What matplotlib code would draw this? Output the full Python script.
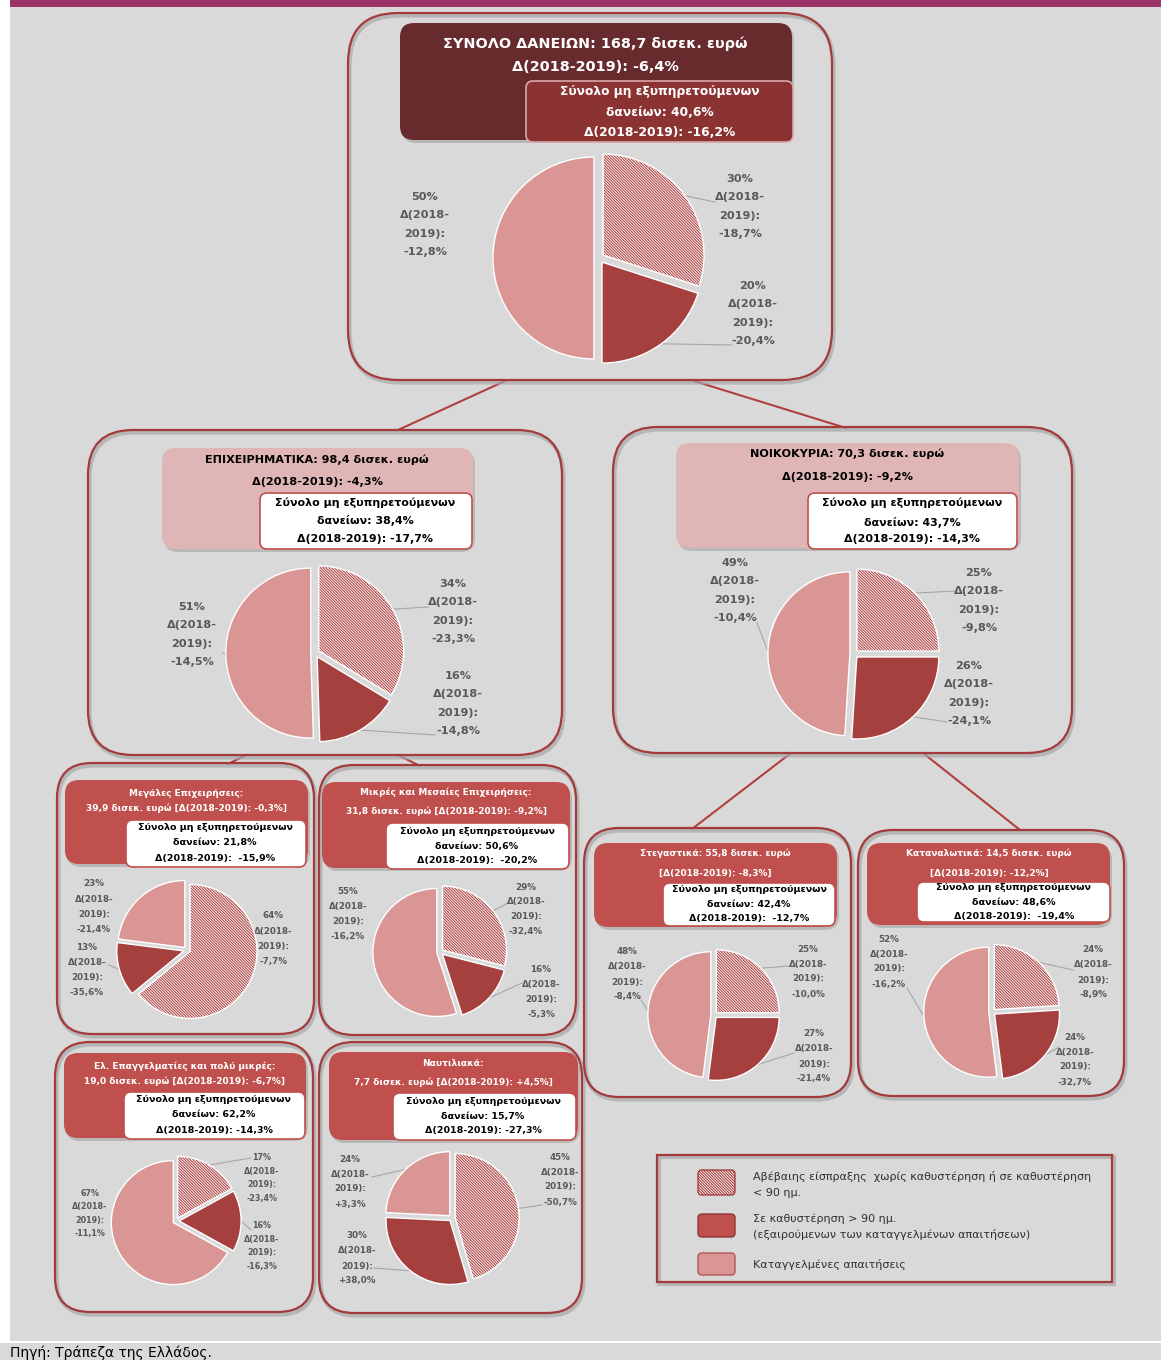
import matplotlib
matplotlib.use("Agg")
import numpy as np
import matplotlib.pyplot as plt
from matplotlib.patches import FancyBboxPatch, Rectangle, Wedge

W, H = 1161, 1360

# slice order in every pie: uncertain (hatched), >90 days past due, denounced
total_shares = [30, 20, 50]
total_deltas = ["-18,7%", "-20,4%", "-12,8%"]
business_shares = [34, 16, 51]
business_deltas = ["-23,3%", "-14,8%", "-14,5%"]
households_shares = [25, 26, 49]
households_deltas = ["-9,8%", "-24,1%", "-10,4%"]
large_shares = [64, 13, 23]
large_deltas = ["-7,7%", "-35,6%", "-21,4%"]
sme_shares = [29, 16, 55]
sme_deltas = ["-32,4%", "-5,3%", "-16,2%"]
housing_shares = [25, 27, 48]
housing_deltas = ["-10,0%", "-21,4%", "-8,4%"]
consumer_shares = [24, 24, 52]
consumer_deltas = ["-8,9%", "-32,7%", "-16,2%"]
small_shares = [17, 16, 67]
small_deltas = ["-23,4%", "-16,3%", "-11,1%"]
shipping_shares = [45, 30, 24]
shipping_deltas = ["-50,7%", "+38,0%", "+3,3%"]

# box texts
total_title = ["ΣΥΝΟΛΟ ΔΑΝΕΙΩΝ: 168,7 δισεκ. ευρώ", "Δ(2018-2019): -6,4%"]
total_npl = ["Σύνολο μη εξυπηρετούμενων", "δανείων: 40,6%", "Δ(2018-2019): -16,2%"]
business_title = ["ΕΠΙΧΕΙΡΗΜΑΤΙΚΑ: 98,4 δισεκ. ευρώ", "Δ(2018-2019): -4,3%"]
business_npl = ["Σύνολο μη εξυπηρετούμενων", "δανείων: 38,4%", "Δ(2018-2019): -17,7%"]
households_title = ["ΝΟΙΚΟΚΥΡΙΑ: 70,3 δισεκ. ευρώ", "Δ(2018-2019): -9,2%"]
households_npl = ["Σύνολο μη εξυπηρετούμενων", "δανείων: 43,7%", "Δ(2018-2019): -14,3%"]
large_title = ["Μεγάλες Επιχειρήσεις:", "39,9 δισεκ. ευρώ [Δ(2018-2019): -0,3%]"]
large_npl = ["Σύνολο μη εξυπηρετούμενων", "δανείων: 21,8%", "Δ(2018-2019):  -15,9%"]
sme_title = ["Μικρές και Μεσαίες Επιχειρήσεις:", "31,8 δισεκ. ευρώ [Δ(2018-2019): -9,2%]"]
sme_npl = ["Σύνολο μη εξυπηρετούμενων", "δανείων: 50,6%", "Δ(2018-2019):  -20,2%"]
housing_title = ["Στεγαστικά: 55,8 δισεκ. ευρώ", "[Δ(2018-2019): -8,3%]"]
housing_npl = ["Σύνολο μη εξυπηρετούμενων", "δανείων: 42,4%", "Δ(2018-2019):  -12,7%"]
consumer_title = ["Καταναλωτικά: 14,5 δισεκ. ευρώ", "[Δ(2018-2019): -12,2%]"]
consumer_npl = ["Σύνολο μη εξυπηρετούμενων", "δανείων: 48,6%", "Δ(2018-2019):  -19,4%"]
small_title = ["Ελ. Επαγγελματίες και πολύ μικρές:", "19,0 δισεκ. ευρώ [Δ(2018-2019): -6,7%]"]
small_npl = ["Σύνολο μη εξυπηρετούμενων", "δανείων: 62,2%", "Δ(2018-2019): -14,3%"]
shipping_title = ["Ναυτιλιακά:", "7,7 δισεκ. ευρώ [Δ(2018-2019): +4,5%]"]
shipping_npl = ["Σύνολο μη εξυπηρετούμενων", "δανείων: 15,7%", "Δ(2018-2019): -27,3%"]

legend_labels = [["Αβέβαιης είσπραξης  χωρίς καθυστέρηση ή σε καθυστέρηση", "< 90 ημ."],
                 ["Σε καθυστέρηση > 90 ημ.", "(εξαιρούμενων των καταγγελμένων απαιτήσεων)"],
                 ["Καταγγελμένες απαιτήσεις"]]
source_text = "Πηγή: Τράπεζα της Ελλάδος."

# colours
BG = "#d9d9d9"
DARK = "#a5403f"
PINK = "#da9694"
EDGE = "#a33a3c"
SMALLHEAD = "#c0504d"
LIGHTHEAD = "#dfb5b5"
LABEL = "#595959"
HATCH = "\\" * 12

plt.rcParams["font.family"] = ["DejaVu Sans"]
plt.rcParams["hatch.linewidth"] = 0.8

# layout (pixels, y downwards)
panels = [
    dict(shares=total_shares, deltas=total_deltas, title=total_title, npl=total_npl,
         box=(348, 13, 832, 380), rr=50,
         head=(400, 23, 792, 140), head_fc="#672b2d", head_tc="white", title_x=595, title_y=(44, 67), title_fs=10.4,
         inner=(526, 81, 793, 142), inner_fc="#8b3333", inner_ec="#dca6a6", inner_tc="white",
         npl_x=660, npl_y=(92, 112, 132), npl_fs=8.8,
         pie=(599, 258, 101), lab_fs=8.1, lab_gap=18.4,
         labels=[(740, 179, (715, 202)), (753, 286, (732, 345)), (425, 197, (493, 257))]),
    dict(shares=business_shares, deltas=business_deltas, title=business_title, npl=business_npl,
         box=(88, 430, 562, 755), rr=45,
         head=(162, 448, 473, 549), head_fc=LIGHTHEAD, head_tc="black", title_x=317, title_y=(460, 482), title_fs=8.1,
         inner=(260, 493, 472, 549), inner_fc="white", inner_ec=SMALLHEAD, inner_tc="black",
         npl_x=365, npl_y=(503, 521, 539), npl_fs=7.9,
         pie=(315, 653, 85), lab_fs=8.1, lab_gap=18.4,
         labels=[(453, 584, (428, 607)), (458, 676, (435, 735)), (192, 607, (223, 653))]),
    dict(shares=households_shares, deltas=households_deltas, title=households_title, npl=households_npl,
         box=(613, 427, 1072, 753), rr=45,
         head=(676, 443, 1019, 548), head_fc=LIGHTHEAD, head_tc="black", title_x=847, title_y=(454, 477), title_fs=8.1,
         inner=(808, 493, 1017, 549), inner_fc="white", inner_ec=SMALLHEAD, inner_tc="black",
         npl_x=912, npl_y=(503, 522, 539), npl_fs=7.9,
         pie=(854, 654, 82), lab_fs=8.1, lab_gap=18.4,
         labels=[(979, 573, (955, 591)), (969, 666, (947, 722)), (735, 563, (757, 623))]),
    dict(shares=large_shares, deltas=large_deltas, title=large_title, npl=large_npl,
         box=(57, 763, 314, 1034), rr=35,
         head=(65, 780, 308, 864), head_fc=SMALLHEAD, head_tc="white", title_x=186, title_y=(793, 808), title_fs=6.45,
         inner=(126, 820, 306, 867), inner_fc="white", inner_ec=SMALLHEAD, inner_tc="black",
         npl_x=215, npl_y=(828, 843, 858), npl_fs=6.8,
         pie=(187, 950, 67), lab_fs=6.3, lab_gap=15.3,
         labels=[(273, 916, None), (87, 947, (109, 965)), (94, 884, (141, 900))]),
    dict(shares=sme_shares, deltas=sme_deltas, title=sme_title, npl=sme_npl,
         box=(319, 765, 576, 1035), rr=35,
         head=(322, 782, 570, 868), head_fc=SMALLHEAD, head_tc="white", title_x=446, title_y=(792, 811), title_fs=6.45,
         inner=(386, 823, 569, 869), inner_fc="white", inner_ec=SMALLHEAD, inner_tc="black",
         npl_x=477, npl_y=(831, 846, 861), npl_fs=6.8,
         pie=(440, 952, 64), lab_fs=6.3, lab_gap=14.8,
         labels=[(526, 887, (508, 903)), (541, 970, (522, 983)), (348, 892, None)]),
    dict(shares=housing_shares, deltas=housing_deltas, title=housing_title, npl=housing_npl,
         box=(584, 828, 851, 1097), rr=35,
         head=(594, 843, 837, 927), head_fc=SMALLHEAD, head_tc="white", title_x=715, title_y=(853, 873), title_fs=6.45,
         inner=(663, 883, 835, 926), inner_fc="white", inner_ec=SMALLHEAD, inner_tc="black",
         npl_x=749, npl_y=(890, 904, 919), npl_fs=6.8,
         pie=(714, 1015, 63), lab_fs=6.3, lab_gap=15.0,
         labels=[(808, 949, (789, 966)), (814, 1034, (794, 1053)), (627, 952, (641, 1000))]),
    dict(shares=consumer_shares, deltas=consumer_deltas, title=consumer_title, npl=consumer_npl,
         box=(858, 830, 1124, 1096), rr=35,
         head=(867, 843, 1110, 925), head_fc=SMALLHEAD, head_tc="white", title_x=989, title_y=(853, 873), title_fs=6.45,
         inner=(917, 882, 1110, 922), inner_fc="white", inner_ec=SMALLHEAD, inner_tc="black",
         npl_x=1014, npl_y=(887, 902, 917), npl_fs=6.8,
         pie=(992, 1012, 65), lab_fs=6.3, lab_gap=15.0,
         labels=[(1093, 950, (1073, 970)), (1075, 1037, (1059, 1047)), (889, 939, (907, 988))]),
    dict(shares=small_shares, deltas=small_deltas, title=small_title, npl=small_npl,
         box=(55, 1042, 313, 1312), rr=35,
         head=(64, 1053, 306, 1138), head_fc=SMALLHEAD, head_tc="white", title_x=185, title_y=(1066, 1081), title_fs=6.45,
         inner=(124, 1092, 305, 1139), inner_fc="white", inner_ec=SMALLHEAD, inner_tc="black",
         npl_x=214, npl_y=(1100, 1115, 1130), npl_fs=6.8,
         pie=(176, 1221, 62), lab_fs=5.8, lab_gap=13.5,
         labels=[(262, 1158, (251, 1158)), (262, 1226, (251, 1230)), (90, 1193, None)]),
    dict(shares=shipping_shares, deltas=shipping_deltas, title=shipping_title, npl=shipping_npl,
         box=(319, 1042, 582, 1313), rr=35,
         head=(329, 1052, 578, 1140), head_fc=SMALLHEAD, head_tc="white", title_x=453, title_y=(1063, 1082), title_fs=6.45,
         inner=(393, 1093, 576, 1140), inner_fc="white", inner_ec=SMALLHEAD, inner_tc="black",
         npl_x=483, npl_y=(1101, 1116, 1131), npl_fs=6.8,
         pie=(452, 1218, 64), lab_fs=6.3, lab_gap=15.0,
         labels=[(560, 1157, (542, 1205)), (357, 1236, (374, 1268)), (350, 1159, (372, 1177))]),
]

connectors = [((505, 381), (398, 430)), ((694, 381), (846, 428)),
              ((246, 755), (228, 764)), ((398, 755), (420, 766)),
              ((791, 753), (692, 829)), ((923, 753), (1020, 830))]


def rbox(ax, x0, y0, x1, y1, r, **kw):
    p = FancyBboxPatch((x0, y0), x1 - x0, y1 - y0,
                       boxstyle="round,pad=0,rounding_size=%g" % r, **kw)
    ax.add_patch(p)
    return p


def text_lines(ax, x, ys, lines, fs, color, weight="bold", zorder=6):
    for y, line in zip(ys, lines):
        ax.text(x, y, line, ha="center", va="center", fontsize=fs, color=color,
                fontweight=weight, zorder=zorder)


def draw_pie(fig, cx, cy, r, shares):
    pad = 1.2
    pax = fig.add_axes([(cx - pad * r) / W, 1 - (cy + pad * r) / H, 2 * pad * r / W, 2 * pad * r / H])
    wedges, _ = pax.pie(shares, colors=["white", DARK, PINK], startangle=90, counterclock=False,
                        explode=[0.05, 0.05, 0.05], radius=1,
                        wedgeprops=dict(linewidth=1.0, edgecolor="white"))
    pax.set_xlim(-pad, pad)
    pax.set_ylim(-pad, pad)
    pax.axis("off")
    hw = wedges[0]
    hw.set_hatch(HATCH)
    hw.set_edgecolor("#b04a4a")  # hatch follows the edge colour
    hw.set_linewidth(0)
    pax.add_patch(Wedge(hw.center, hw.r, hw.theta1, hw.theta2, fill=False, ec="white", lw=1.0))
    return wedges


fig = plt.figure(figsize=(W / 100, H / 100), dpi=100, facecolor="white")
ax = fig.add_axes([0, 0, 1, 1])
ax.set_xlim(0, W)
ax.set_ylim(H, 0)
ax.axis("off")

# page background
ax.add_patch(Rectangle((10, 7), W - 10, 1334, fc=BG, ec="none", zorder=0))
ax.add_patch(Rectangle((10, 0), W - 10, 7, fc="#9b3366", ec="none", zorder=0))
ax.add_patch(Rectangle((0, 1343), W, H - 1343, fc=BG, ec="none", zorder=0))
ax.text(10, 1345, source_text, ha="left", va="top", fontsize=10, color="black", zorder=6)

for (a, b) in connectors:
    ax.plot([a[0], b[0]], [a[1], b[1]], color="#b0403f", lw=1.5, zorder=1)

for p in panels:
    x0, y0, x1, y1 = p["box"]
    rbox(ax, x0 + 1.5, y0 + 2.5, x1 + 1.5, y1 + 2.5, p["rr"], fill=False, ec="#a8a8a8", lw=3, alpha=0.7, zorder=1)
    rbox(ax, x0, y0, x1, y1, p["rr"], fill=False, ec=EDGE, lw=1.6, zorder=2)

    hx0, hy0, hx1, hy1 = p["head"]
    rbox(ax, hx0 + 2, hy0 + 3, hx1 + 2, hy1 + 3, 14, fc="#b8b8b8", ec="none", zorder=2)
    rbox(ax, hx0, hy0, hx1, hy1, 14, fc=p["head_fc"], ec="none", zorder=3)
    text_lines(ax, p["title_x"], p["title_y"], p["title"], p["title_fs"], p["head_tc"])

    ix0, iy0, ix1, iy1 = p["inner"]
    rbox(ax, ix0, iy0, ix1, iy1, 7, fc=p["inner_fc"], ec=p["inner_ec"], lw=1.2, zorder=4)
    text_lines(ax, p["npl_x"], p["npl_y"], p["npl"], p["npl_fs"], p["inner_tc"])

    cx, cy, r = p["pie"]
    wedges = draw_pie(fig, cx, cy, r, p["shares"])
    for w, share, delta, (lx, ly, lead) in zip(wedges, p["shares"], p["deltas"], p["labels"]):
        lines = ["%d%%" % share, "Δ(2018-", "2019):", delta]
        text_lines(ax, lx, [ly + i * p["lab_gap"] for i in range(4)], lines, p["lab_fs"], LABEL)
        if lead is not None:
            th = np.deg2rad((w.theta1 + w.theta2) / 2)
            sx = cx + (w.center[0] + np.cos(th)) * r
            sy = cy - (w.center[1] + np.sin(th)) * r
            ax.plot([sx, lead[0]], [sy, lead[1]], color="#a6a6a6", lw=0.8, zorder=2)

# legend
ax.add_patch(Rectangle((659, 1157), 455, 127, fc="none", ec="#a8a8a8", lw=3, alpha=0.7, zorder=1))
ax.add_patch(Rectangle((657, 1155), 455, 127, fc="none", ec=EDGE, lw=1.6, zorder=2))
swatches = [dict(fc="white", ec="#a5403f", hatch=HATCH, y=(1170, 1195)),
            dict(fc=SMALLHEAD, ec="#8c3836", hatch=None, y=(1214, 1237)),
            dict(fc=PINK, ec="#b05656", hatch=None, y=(1253, 1275))]
text_ys = [(1177, 1193), (1219, 1235), (1265,)]
for sw, lab, ys in zip(swatches, legend_labels, text_ys):
    s = rbox(ax, 698, sw["y"][0], 735, sw["y"][1], 4, fc=sw["fc"], ec=sw["ec"], lw=1.0, zorder=4)
    if sw["hatch"]:
        s.set_hatch(sw["hatch"])
    for y, line in zip(ys, lab):
        ax.text(753, y, line, ha="left", va="center", fontsize=8.0, color="#303030", zorder=6)

fig.savefig("out.png", dpi=100, facecolor=fig.get_facecolor())
